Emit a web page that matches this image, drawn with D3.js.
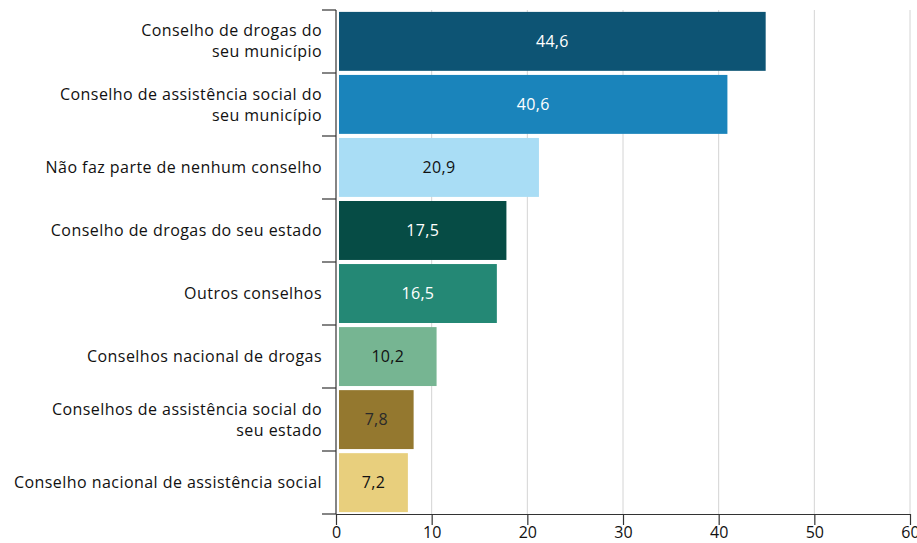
<!DOCTYPE html>
<html>
<head>
<meta charset="utf-8">
<script src="https://cdn.jsdelivr.net/npm/d3@7"></script>
<style>
	body { margin: 0; background: white; }
	svg { display: block; font-family: "Open Sans", "Noto Sans", sans-serif; }
</style>
</head>
<body>
<div id="chart"></div>
<script>
// Categories (each entry is one or two lines of the label).
let categories = [
	["Conselho de drogas do", "seu município"],
	["Conselho de assistência social do", "seu município"],
	["Não faz parte de nenhum conselho"],
	["Conselho de drogas do seu estado"],
	["Outros conselhos"],
	["Conselhos nacional de drogas"],
	["Conselhos de assistência social do", "seu estado"],
	["Conselho nacional de assistência social"]
];

let values = [44.6, 40.6, 20.9, 17.5, 16.5, 10.2, 7.8, 7.2];

let barcolors = ["#0d5474", "#1a84bb", "#a9ddf5", "#064c45", "#248875", "#76b592", "#94782f", "#e8cf7d"];
let textcolors = ["#ffffff", "#ffffff", "#111111", "#ffffff", "#ffffff", "#111111", "#2a2a2a", "#111111"];

let xticks = [0, 10, 20, 30, 40, 50, 60];


let width = 917, height = 543;
let margin = {top: 10, right: 7, bottom: 29, left: 336};

let svg = d3.select("#chart")
  .append("svg")
	.attr("width", width)
	.attr("height", height);

let x = d3.scaleLinear()
  .domain([0, 60])
  .range([margin.left, width - margin.right]);

let y = d3.scaleBand()
  .domain(d3.range(values.length))
  .range([margin.top, height - margin.bottom])
  .paddingInner(0.065)
  .paddingOuter(0.03);


// Vertical grid lines.
svg.append("g")
  .selectAll("line")
  .data(xticks.slice(1))
  .enter()
  .append("line")
	.attr("x1", d=>x(d))
	.attr("x2", d=>x(d))
	.attr("y1", margin.top)
	.attr("y2", height - margin.bottom)
	.attr("stroke", "#d4d4d4")
	.attr("stroke-width", 1);


// Bars, slightly detached from the axis line as in the original.
let bars = svg.append("g")
  .selectAll("rect")
  .data(values)
  .enter()
  .append("rect")
	.attr("x", x(0) + 3)
	.attr("y", (d,i)=>y(i))
	.attr("width", d=>x(d) - x(0))
	.attr("height", y.bandwidth())
	.attr("fill", (d,i)=>barcolors[i]);


// Value labels inside the bars.
svg.append("g")
  .selectAll("text")
  .data(values)
  .enter()
  .append("text")
	.attr("x", d=>x(0) + 3 + (x(d) - x(0))/2)
	.attr("y", (d,i)=>y(i) + y.bandwidth()/2)
	.attr("dy", "0.35em")
	.attr("text-anchor", "middle")
	.attr("font-size", 16)
	.attr("letter-spacing", 0.3)
	.attr("fill", (d,i)=>textcolors[i])
	.text(d=>d3.format(".1f")(d).replace(".", ","));


// Category labels, right aligned against the axis.
let labels = svg.append("g")
  .selectAll("text")
  .data(categories)
  .enter()
  .append("text")
	.attr("text-anchor", "end")
	.attr("font-size", 16)
	.attr("letter-spacing", 0.45)
	.attr("fill", "#111");

labels.each(function(lines, i){
	let cy = y(i) + y.bandwidth()/2;
	let lh = 21;
	let y0 = cy - (lines.length - 1)*lh/2;
	d3.select(this).selectAll("tspan")
	  .data(lines)
	  .enter()
	  .append("tspan")
		.attr("x", 322)
		.attr("y", (l,j)=>y0 + j*lh)
		.attr("dy", "0.35em")
		.text(l=>l);
}); // each


// Y axis: line plus ticks at the band boundaries.
let step = (height - margin.bottom - margin.top)/values.length;
let boundaries = d3.range(values.length + 1).map(i=>margin.top + i*step);

let yaxis = svg.append("g").attr("stroke", "#333").attr("stroke-width", 1.2);
yaxis.append("line")
	.attr("x1", x(0)).attr("x2", x(0))
	.attr("y1", margin.top).attr("y2", height - margin.bottom);
yaxis.selectAll("line.tick")
  .data(boundaries)
  .enter()
  .append("line")
	.attr("class", "tick")
	.attr("x1", x(0) - 14).attr("x2", x(0))
	.attr("y1", d=>d).attr("y2", d=>d);


// X axis.
let xaxis = svg.append("g")
	.attr("transform", `translate(0,${height - margin.bottom})`)
	.call(d3.axisBottom(x).tickValues(xticks).tickSize(11).tickPadding(2).tickSizeOuter(0));

xaxis.select(".domain").attr("stroke", "#333").attr("stroke-width", 1.2);
xaxis.selectAll(".tick line").attr("stroke", "#333").attr("stroke-width", 1.2);
xaxis.selectAll(".tick text")
	.attr("font-size", 16)
	.attr("font-family", "\"Open Sans\", \"Noto Sans\", sans-serif")
	.attr("fill", "#111");
</script>
</body>
</html>
